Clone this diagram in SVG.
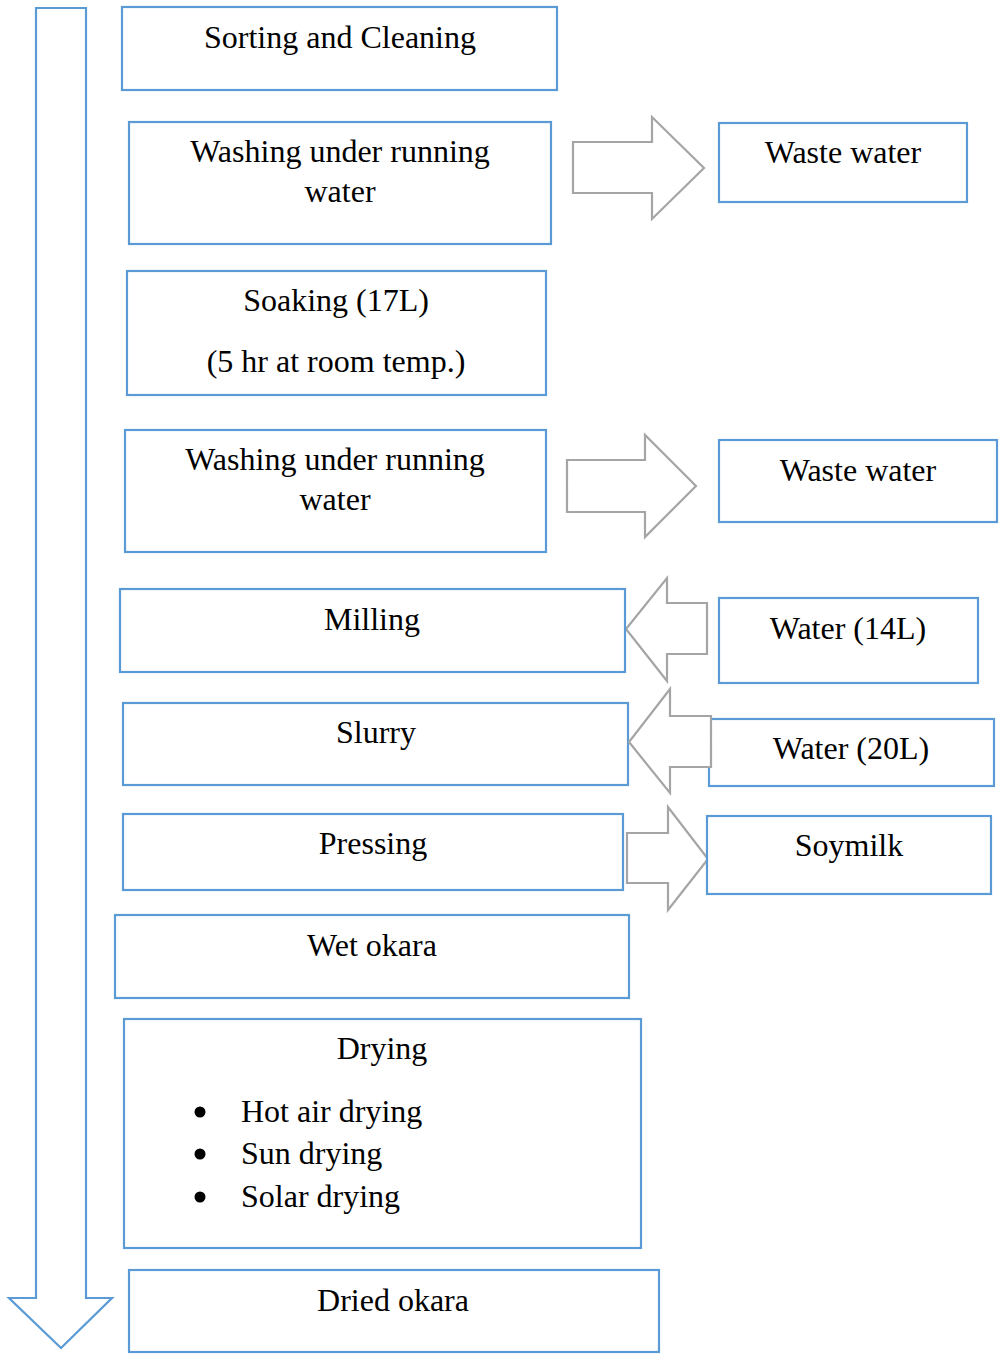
<svg xmlns="http://www.w3.org/2000/svg" width="1001" height="1357" viewBox="0 0 1001 1357">
<style>
.box{fill:#fff;stroke:#5b9bd5;stroke-width:2.2}
.barrow{fill:#fff;stroke:#a5a5a5;stroke-width:2.2}
.down{fill:#fff;stroke:#5b9bd5;stroke-width:2.2}
text{font-family:"Liberation Serif","Times New Roman",serif;font-size:32px;fill:#000}
.c{text-anchor:middle}
</style>
<rect width="1001" height="1357" fill="#fff"/>
<g id="connectors">
<polygon class="down" points="36,8 86,8 86,1298 112,1298 61,1348 9,1298 36,1298"/>
<polygon class="barrow" points="573,142 652,142 652,117 704,168 652,219 652,193 573,193"/>
<polygon class="barrow" points="567,460 645,460 645,435 696,486 645,537 645,512 567,512"/>
<polygon class="barrow" points="707,603 667,603 667,578 626,629 667,681 667,654 707,654"/>
<polygon class="barrow" points="627,833 668,833 668,807 708,859 668,910 668,883 627,883"/>
</g>
<g id="n1"><rect class="box" x="122" y="7" width="435" height="83"/><text class="c" x="340" y="48">Sorting and Cleaning</text></g>
<g id="n2"><rect class="box" x="129" y="122" width="422" height="122"/><text class="c" x="340" y="162">Washing under running</text><text class="c" x="340" y="202">water</text></g>
<g id="n3"><rect class="box" x="127" y="271" width="419" height="124"/><text class="c" x="336" y="311">Soaking (17L)</text><text class="c" x="336" y="372">(5 hr at room temp.)</text></g>
<g id="n4"><rect class="box" x="125" y="430" width="421" height="122"/><text class="c" x="335" y="470">Washing under running</text><text class="c" x="335" y="510">water</text></g>
<g id="n5"><rect class="box" x="120" y="589" width="505" height="83"/><text class="c" x="372" y="630">Milling</text></g>
<g id="n6"><rect class="box" x="123" y="703" width="505" height="82"/><text class="c" x="376" y="743">Slurry</text></g>
<g id="n7"><rect class="box" x="123" y="814" width="500" height="76"/><text class="c" x="373" y="854">Pressing</text></g>
<g id="n8"><rect class="box" x="115" y="915" width="514" height="83"/><text class="c" x="372" y="956">Wet okara</text></g>
<g id="n9"><rect class="box" x="124" y="1019" width="517" height="229"/><text class="c" x="382" y="1059">Drying</text>
<circle cx="200" cy="1112" r="5.5" fill="#000"/><text x="241" y="1122">Hot air drying</text>
<circle cx="200" cy="1154" r="5.5" fill="#000"/><text x="241" y="1164">Sun drying</text>
<circle cx="200" cy="1197" r="5.5" fill="#000"/><text x="241" y="1207">Solar drying</text></g>
<g id="n10"><rect class="box" x="129" y="1270" width="530" height="82"/><text class="c" x="393" y="1311">Dried okara</text></g>
<g id="r1"><rect class="box" x="719" y="123" width="248" height="79"/><text class="c" x="843" y="163">Waste water</text></g>
<g id="r2"><rect class="box" x="719" y="440" width="278" height="82"/><text class="c" x="858" y="481">Waste water</text></g>
<g id="r3"><rect class="box" x="719" y="598" width="259" height="85"/><text class="c" x="848" y="639">Water (14L)</text></g>
<g id="r4"><rect class="box" x="709" y="719" width="285" height="67"/><text class="c" x="851" y="759">Water (20L)</text></g>
<g id="r5"><rect class="box" x="707" y="816" width="284" height="78"/><text class="c" x="849" y="856">Soymilk</text></g>
<g id="connectors2"><polygon class="barrow" points="711,716 670,716 670,689 629,742 670,793 670,767 711,767"/></g>
</svg>
